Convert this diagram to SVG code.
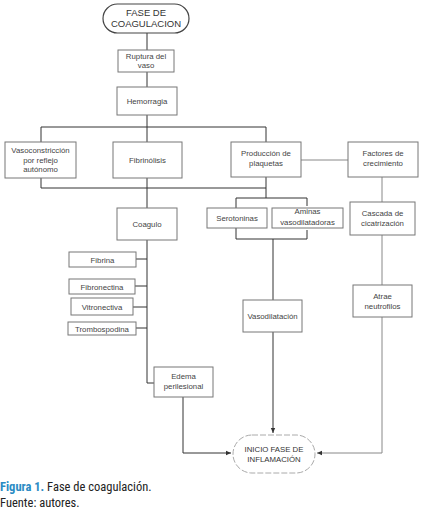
<svg xmlns="http://www.w3.org/2000/svg" width="421" height="521" viewBox="0 0 421 521">
<defs>
<marker id="ah" markerWidth="6" markerHeight="6" refX="5" refY="3" orient="auto" markerUnits="userSpaceOnUse"><path d="M0,0.8 L5,3 L0,5.2 Z" fill="#333"/></marker>
<style>
.box{fill:#fff;stroke:#777;stroke-width:1}
.term{fill:#fff;stroke:#444;stroke-width:1.2}
.term2{fill:#fff;stroke:#aaa;stroke-width:1;stroke-dasharray:6 2}
.t{font-family:"Liberation Sans",Arial,sans-serif;font-size:7.8px;fill:#444;text-anchor:middle}
.tt{font-family:"Liberation Sans",Arial,sans-serif;font-size:9.5px;fill:#333;text-anchor:middle}
.ti{font-family:"Liberation Sans",Arial,sans-serif;font-size:7.8px;fill:#333;text-anchor:middle}
.ln{fill:none;stroke:#333;stroke-width:1}
.lg{fill:none;stroke:#888;stroke-width:1}
.cap{font-family:"Liberation Sans Narrow","Roboto Condensed","Liberation Sans",sans-serif;font-size:12.5px;fill:#222}
</style>
</defs>
<rect width="421" height="521" fill="#fff"/>
<g id="connectors">
<path class="ln" d="M147,33 V50 M147,72 V87 M147,115 V127"/>
<path class="ln" d="M41,142 V127 H266 V142"/>
<path class="ln" d="M147,127 V142"/>
<path class="ln" d="M41,178 V188 H266 V177"/>
<path class="ln" d="M147,178 V208"/>
<path class="ln" d="M147,240 V383 H154"/>
<path class="ln" d="M136,259 H147 M135,286 H147 M133,307 H147 M136,328 H147"/>
<path class="ln" d="M236,208 V198 H307 V206 M266,188 V198"/>
<path class="ln" d="M236,228 V239 H307 V230 M273,239 V300"/>
<path class="ln" d="M273,332 V433" marker-end="url(#ah)"/>
<path class="ln" d="M183,397 V453 H231" marker-end="url(#ah)"/>
<path class="lg" d="M301,160 H348"/>
<path class="lg" d="M382,177 V202 M382,235 V285"/>
<path class="lg" d="M382,317 V453 H317" marker-end="url(#ah)"/>
</g>
<g id="fase">
<rect class="term" x="103" y="4" width="86" height="29" rx="14.5"/>
<text class="tt" x="146" y="16">FASE DE</text>
<text class="tt" x="146" y="27">COAGULACION</text>
</g>
<g id="ruptura">
<rect class="box" x="118" y="50" width="56" height="22"/>
<text class="t" x="146" y="59">Ruptura del</text>
<text class="t" x="146" y="68">vaso</text>
</g>
<g id="hemorragia">
<rect class="box" x="117" y="87" width="60" height="28"/>
<text class="t" x="147" y="104">Hemorragia</text>
</g>
<g id="vasoconstriccion">
<rect class="box" x="5" y="142" width="71" height="36"/>
<text class="t" x="40.5" y="153">Vasoconstricción</text>
<text class="t" x="40.5" y="162.5">por reflejo</text>
<text class="t" x="40.5" y="172">autónomo</text>
</g>
<g id="fibrinolisis">
<rect class="box" x="113" y="142" width="69" height="36"/>
<text class="t" x="147.5" y="163">Fibrinólisis</text>
</g>
<g id="produccion">
<rect class="box" x="231" y="142" width="70" height="35"/>
<text class="t" x="266" y="156">Producción de</text>
<text class="t" x="266" y="165.5">plaquetas</text>
</g>
<g id="factores">
<rect class="box" x="348" y="142" width="70" height="35"/>
<text class="t" x="383" y="156">Factores de</text>
<text class="t" x="383" y="165.5">crecimiento</text>
</g>
<g id="coagulo">
<rect class="box" x="117" y="208" width="60" height="32"/>
<text class="t" x="147" y="227">Coagulo</text>
</g>
<g id="serotoninas">
<rect class="box" x="207" y="208" width="60" height="20"/>
<text class="t" x="237" y="220.5">Serotoninas</text>
</g>
<g id="aminas">
<rect class="box" x="272" y="208" width="71" height="20"/>
<text class="t" x="307.5" y="214">Aminas</text>
<text class="t" x="307.5" y="224.5">vasodilatadoras</text>
</g>
<g id="cascada">
<rect class="box" x="350" y="202" width="65" height="33"/>
<text class="t" x="382.5" y="216">Cascada de</text>
<text class="t" x="382.5" y="225.5">cicatrización</text>
</g>
<g id="fibrina">
<rect class="box" x="69" y="252" width="67" height="15"/>
<text class="t" x="102.5" y="262.5">Fibrina</text>
</g>
<g id="fibronectina">
<rect class="box" x="69" y="279" width="66" height="15"/>
<text class="t" x="102" y="289.5">Fibronectina</text>
</g>
<g id="vitronectiva">
<rect class="box" x="71" y="298" width="62" height="17"/>
<text class="t" x="102" y="309.5">Vitronectiva</text>
</g>
<g id="trombospodina">
<rect class="box" x="68" y="322" width="68" height="13"/>
<text class="t" x="102" y="331.5">Trombospodina</text>
</g>
<g id="atrae">
<rect class="box" x="353" y="285" width="59" height="32"/>
<text class="t" x="382.5" y="299">Atrae</text>
<text class="t" x="382.5" y="308.5">neutrofilos</text>
</g>
<g id="vasodilatacion">
<rect class="box" x="243" y="300" width="59" height="32"/>
<text class="t" x="272.5" y="319">Vasodilatación</text>
</g>
<g id="edema">
<rect class="box" x="154" y="367" width="59" height="30"/>
<text class="t" x="183.5" y="379">Edema</text>
<text class="t" x="183.5" y="388.5">perilesional</text>
</g>
<g id="inflamacion">
<rect class="term2" x="233" y="435" width="82" height="38" rx="19"/>
<text class="ti" x="274" y="452">INICIO FASE DE</text>
<text class="ti" x="274" y="462">INFLAMACIÓN</text>
</g>
<g id="caption">
<text class="cap" x="0" y="491"><tspan fill="#2b8bc4" font-weight="bold">Figura 1.</tspan> Fase de coagulación.</text>
<text class="cap" x="0" y="507">Fuente: autores.</text>
</g>
</svg>
